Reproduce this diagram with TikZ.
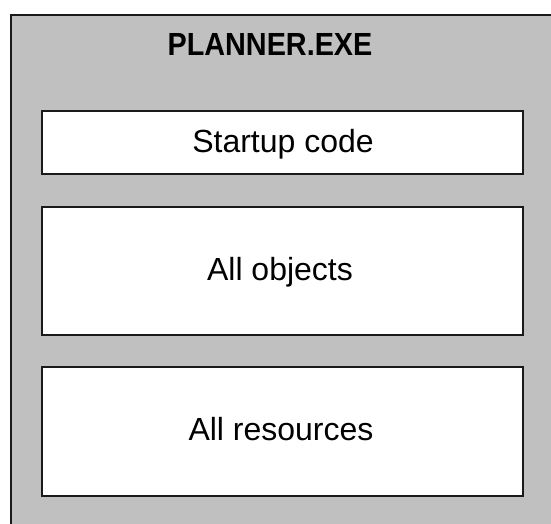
\documentclass[tikz,border=0pt]{standalone}
\usepackage{fontspec}
\setmainfont{Liberation Sans}
\definecolor{panelgray}{HTML}{C0C0C0}
\definecolor{edge}{HTML}{1A1A1A}
\tikzset{
  outerbox/.style={draw=edge, line width=2pt, fill=panelgray},
  partbox/.style={draw=edge, line width=2pt, fill=white},
  lbl/.style={anchor=base, inner sep=0pt, font=\fontsize{32}{36}\selectfont}
}
\begin{document}
\begin{tikzpicture}[x=1pt, y=-1pt]
\useasboundingbox (0,0) rectangle (551,523);
\begin{scope}
\clip (0,0) rectangle (551,523);
\fill[white] (0,0) rectangle (551,523);
\draw[outerbox] (11,15) rectangle (565,540);
\end{scope}
\draw[partbox] (42,111) rectangle (523,174);
\draw[partbox] (42,207) rectangle (523,335);
\draw[partbox] (42,367) rectangle (523,496);
\node[lbl] (title) at (270,55) {\scalebox{0.9}[1]{\bfseries PLANNER.EXE}};
\node[lbl] (startup) at (283,152) {Startup code};
\node[lbl] (objects) at (280,280) {All objects};
\node[lbl] (resources) at (281,440) {All resources};
\end{tikzpicture}
\end{document}
